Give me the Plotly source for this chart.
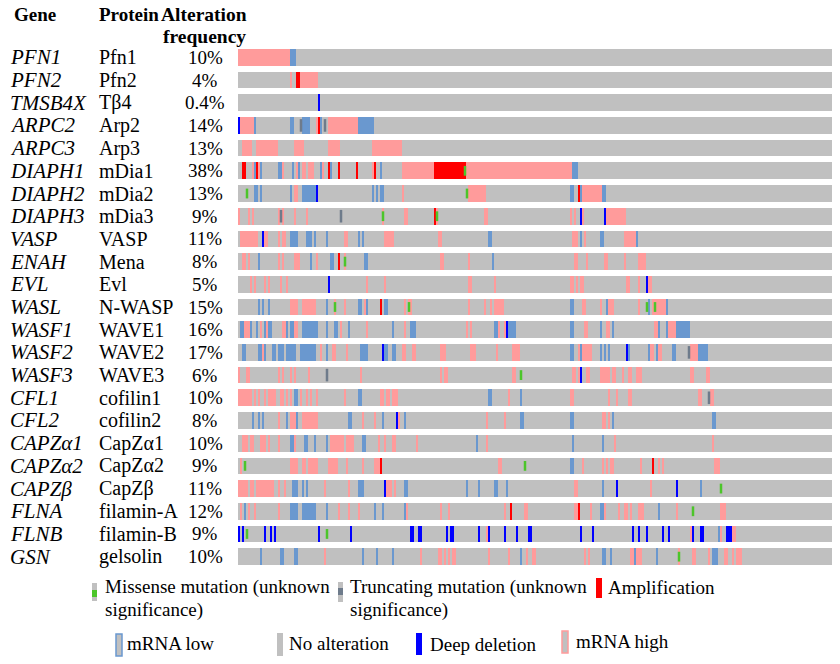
import numpy as np
import plotly.graph_objects as go

genes = ["PFN1", "PFN2", "TMSB4X", "ARPC2", "ARPC3", "DIAPH1", "DIAPH2", "DIAPH3",
         "VASP", "ENAH", "EVL", "WASL", "WASF1", "WASF2", "WASF3", "CFL1", "CFL2",
         "CAPZα1", "CAPZα2", "CAPZβ", "FLNA", "FLNB", "GSN"]
proteins = ["Pfn1", "Pfn2", "Tβ4", "Arp2", "Arp3", "mDia1", "mDia2", "mDia3",
            "VASP", "Mena", "Evl", "N-WASP", "WAVE1", "WAVE2", "WAVE3", "cofilin1",
            "cofilin2", "CapZα1", "CapZα2", "CapZβ", "filamin-A", "filamin-B", "gelsolin"]
freq_labels = ["10%", "4%", "0.4%", "14%", "13%", "38%", "13%", "9%", "11%", "8%", "5%",
               "15%", "16%", "17%", "6%", "10%", "8%", "10%", "9%", "11%", "12%", "9%", "10%"]
n_samples = 297

# altered sample indices per gene (one string per gene, same order as genes)
mrna_high = [
    "0-25",
    "26,31-39",
    "",
    "1-7,39,45-59",
    "2-6,9-19,28-32,45-50,67-81",
    "7,10,22,29,32-33,35-37,42,67,82-97,114-166",
    "28-29,82,115-123,172-181",
    "0,5,7,20,22,28,34,72,83-84,99,123-124,166,168,172,184-193",
    "1-9,13-14,20,22-23,53-54,73-77,100-101,167-169,173,193-198",
    "2-3,5,20,22,28-30,39,53,101-102,115,168-169,174,183-184,193,200-203",
    "6,8,13,15,21,24,64,73,115-116,128,166-167,169,171-172,194-195,200,205-206",
    "26-29,32-38,48,53,63,83,85-86,115,123,126,128-132,172-173,181,185-187,200,207-213",
    "3-5,11,14,22-23,28-29,51,64,83,114,116,130,133,173-174,184-185,208-209,215-218",
    "12,41,47-48,54,82-83,87-88,101-103,116-118,129,137-140,170,172-176,206-207,210-211,226-229",
    "0,4-5,20,22,26,28,35,61,101,103-104,137-138,167-168,170,174-175,181-185,187-188,192,195-196,199-201,226-227,234-235",
    "0-6,8,10,13,15-18,21-22,24,26,31,34,36,39,53,71-72,74-75,77-79,135,166-167,185,189,195-196,230-231,236-237",
    "20,26-28,32-39,62,68,80,124,133,182-183,185",
    "2-4,6-7,11-13,15,20,28,46-52,54-57,70,73,77-78,89,124,188,237",
    "1,26-29,32-33,35-39,45-49,54,62,68-70,130-131,172,182,184,186-187,201,210,212,238-240",
    "0-4,6-7,9-17,20,23,43,55,74-76,78,168-169,206",
    "1,5,8,20,50,55,60,84,101,105,133,143-144,168-169,176,183,190,193-194,196,200-202,219,241-243",
    "124,226,241,247-248",
    "43,91,100-101,103,105,107-108,125,135,144,147-148,173,175,196-197,199-201,220,227-228,235,243-244,247,249-251",
]
mrna_low = [
    "26-28", "", "",
    "8,26-27,32-35,41,60-67",
    "",
    "8,11,20-21,27,30,41,46,71,167-169",
    "8-9,11,26,32-38,67,69,71-72,166-167,171,182-183",
    "",
    "26-29,34-36,38,44,60,62,125-126,171,181-182,199",
    "10,36,46-47,63-64,127",
    "",
    "10,12,15,44,60-61,64,73-74,166-167,184,205,214",
    "1-2,6,9,13,15-16,24,26-27,32-39,44,48-49,55,77,86-88,128-129,135-138,166-167,181,187,210,214,219-225",
    "2-3,10-11,13,17-18,20-22,24-28,31-38,44,61-64,73-74,77-78,166-167,171,181,183,185,195,205,209,217-218,230-234",
    "",
    "28-29,60-61,125-126,141",
    "7,10,12,24,29,55-56,72,83,141-142,166-167,187,237-238",
    "26-27,33-34,38,44,62-63,119,167,182",
    "166-167",
    "27-29,32,34,60-62,83-84,114,120,128-129,134,182,231",
    "3,26-29,32-38,44,68,72,83,181-182,210",
    "240",
    "11,21-22,28-29,62,69,77,141,182-183,186,198,209,237-239",
]
amplification = [
    "", "29-30", "", "40", "",
    "2-3,9,45,50,59,68,98-113",
    "170", "98", "", "50", "", "71", "", "", "", "", "", "",
    "71,207", "", "136,170", "", "",
]
deep_deletion = [
    "", "", "40", "0", "", "", "39", "171,183", "12", "", "45,204", "", "134", "72,194",
    "171", "", "79", "", "", "73,189,219", "",
    "0,2,13,16,18,40,56,86-87,90-91,104,106-107,120,125,133,139,145-146,171,177,197,200,204,212,215,227,231-232,244-246",
    "",
]
missense = [
    "", "", "", "", "", "113", "4,114", "72,99", "", "53", "", "48,85,204,208", "", "",
    "141", "", "", "", "3,143", "241", "227", "4,44", "220",
]
truncating = [
    "", "", "", "31,43", "", "", "", "21,51", "", "", "", "", "", "225", "44", "235",
    "", "", "", "", "", "", "",
]


def parse(spec):
    out = []
    for part in spec.split(","):
        part = part.strip()
        if not part:
            continue
        if "-" in part:
            a, b = part.split("-")
            out.extend(range(int(a), int(b) + 1))
        else:
            out.append(int(part))
    return out


G = len(genes)
z = np.zeros((G, n_samples))
for code, table in [(1, mrna_high), (2, mrna_low), (3, amplification), (4, deep_deletion)]:
    for g, spec in enumerate(table):
        for s in parse(spec):
            z[g, s] = code

GRAY = "#C0C0C0"
PINK = "#FF9B9B"
LOWB = "#6A98CF"
RED = "#FF0000"
BLUE = "#0000FF"
GREEN = "#4CC52A"
TRUNC = "#6E7B8B"

colorscale = [[0, GRAY], [0.2, GRAY], [0.2, PINK], [0.4, PINK], [0.4, LOWB], [0.6, LOWB],
              [0.6, RED], [0.8, RED], [0.8, BLUE], [1, BLUE]]

fig = go.Figure()
fig.add_trace(go.Heatmap(z=z, x=np.arange(n_samples), y=np.arange(G), colorscale=colorscale,
                         zmin=0, zmax=4, showscale=False, ygap=6, hoverinfo="skip"))

for table, color, size in [(missense, GREEN, 7), (truncating, TRUNC, 9)]:
    xs, ys = [], []
    for g, spec in enumerate(table):
        for s in parse(spec):
            xs.append(s)
            ys.append(g)
    fig.add_trace(go.Scatter(x=xs, y=ys, mode="markers", hoverinfo="skip", showlegend=False,
                             marker=dict(symbol="line-ns", size=size,
                                         line=dict(width=2.5, color=color))))

Lm, Tm, W, H = 238, 46, 594, 522
FONT = "Liberation Serif"


def px(x):
    return (x - Lm) / W


def py(y):
    return 1 - (y - Tm) / H


ann = []


def text(x, y, t, anchor="left", bold=False, size=19):
    ann.append(dict(x=px(x), y=py(y), xref="paper", yref="paper", text=("<b>%s</b>" % t) if bold else t,
                    showarrow=False, xanchor=anchor, yanchor="middle",
                    font=dict(family=FONT, size=size, color="black")))


text(12, 15, "Gene", bold=True, size=19)
text(97, 15, "Protein", bold=True, size=19)
text(204, 15, "Alteration", anchor="center", bold=True, size=19.5)
text(204, 36, "frequency", anchor="center", bold=True, size=19.5)

for i in range(G):
    yc = Tm + (i + 0.5) * H / G
    text(8, yc, "<i>%s</i>" % genes[i], size=21)
    text(97, yc, proteins[i], size=20)
    text(205, yc, freq_labels[i], anchor="center", size=19)

shapes = []


def rect(x0, y0, x1, y1, fill, line=None, lw=0):
    shapes.append(dict(type="rect", xref="paper", yref="paper", x0=px(x0), x1=px(x1),
                       y0=py(y1), y1=py(y0), fillcolor=fill,
                       line=dict(width=lw, color=line or fill)))


rect(92, 583, 97, 601, GRAY)
rect(92, 590, 97, 597, GREEN)
text(103, 587, "Missense mutation (unknown")
text(103, 610, "significance)")
rect(338, 582, 343, 602, GRAY)
rect(338, 588, 343, 595, TRUNC)
text(348, 587, "Truncating mutation (unknown")
text(348, 610, "significance)")
rect(596, 578, 602, 598, RED)
text(606, 587, "Amplification")

rect(116, 634, 122, 656, GRAY, LOWB, 1.5)
text(125, 643, "mRNA low")
rect(277, 633, 283, 656, GRAY)
text(287, 643, "No alteration")
rect(416, 633, 422, 655, BLUE)
text(428, 644, "Deep deletion")
rect(562, 631, 568, 653, GRAY, PINK, 1.5)
text(574, 641, "mRNA high")

fig.update_layout(
    width=840, height=664, margin=dict(l=Lm, r=840 - Lm - W, t=Tm, b=664 - Tm - H),
    paper_bgcolor="white", plot_bgcolor="white", showlegend=False,
    xaxis=dict(range=[-0.5, n_samples - 0.5], visible=False, fixedrange=True),
    yaxis=dict(range=[G - 0.5, -0.5], visible=False, fixedrange=True),
    annotations=ann, shapes=shapes,
)

fig.write_html("out.html", config={"displayModeBar": False})

# remove default page margin so the figure sits at the window origin
with open("out.html", encoding="utf-8") as f:
    html = f.read()
html = html.replace("<head>", "<head><style>html,body{margin:0;padding:0;overflow:hidden;}</style>", 1)
with open("out.html", "w", encoding="utf-8") as f:
    f.write(html)
